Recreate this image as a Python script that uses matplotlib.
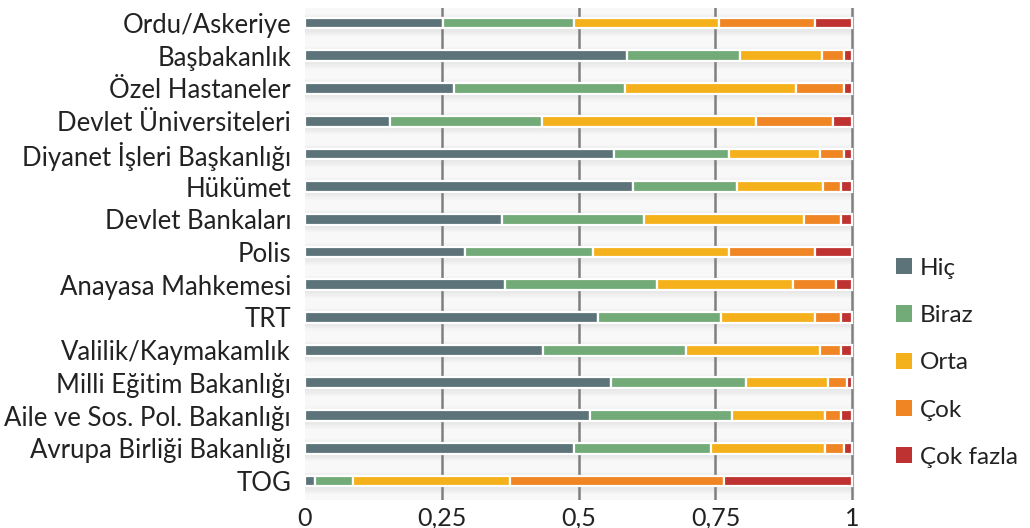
"""Stacked horizontal bar chart: kurumlara ilişkin algı dağılımı"""
import matplotlib
matplotlib.use('Agg')
import matplotlib.pyplot as plt
from matplotlib.patches import Patch

plt.rcParams['font.family'] = ['Lato', 'DejaVu Sans']

# Kurumlar (üstten alta)
kurumlar = ['Ordu/Askeriye', 'Başbakanlık', 'Özel Hastaneler', 'Devlet Üniversiteleri',
            'Diyanet İşleri Başkanlığı', 'Hükümet', 'Devlet Bankaları', 'Polis',
            'Anayasa Mahkemesi', 'TRT', 'Valilik/Kaymakamlık', 'Milli Eğitim Bakanlığı',
            'Aile ve Sos. Pol. Bakanlığı', 'Avrupa Birliği Bakanlığı', 'TOG']

# Seriler (oranlar)
hic = [0.253, 0.589, 0.272, 0.155, 0.565, 0.600, 0.360, 0.292, 0.365, 0.536, 0.434, 0.560, 0.521, 0.492, 0.018]
biraz = [0.239, 0.205, 0.313, 0.278, 0.210, 0.190, 0.259, 0.234, 0.278, 0.224, 0.262, 0.245, 0.259, 0.249, 0.069]
orta = [0.264, 0.150, 0.312, 0.391, 0.166, 0.156, 0.293, 0.249, 0.249, 0.171, 0.245, 0.151, 0.171, 0.210, 0.288]
cok = [0.176, 0.041, 0.088, 0.141, 0.044, 0.034, 0.068, 0.156, 0.078, 0.049, 0.039, 0.034, 0.029, 0.034, 0.391]
cok_fazla = [0.068, 0.015, 0.015, 0.035, 0.015, 0.020, 0.020, 0.069, 0.030, 0.020, 0.020, 0.010, 0.020, 0.015, 0.234]

seriler = [hic, biraz, orta, cok, cok_fazla]
etiketler = ['Hiç', 'Biraz', 'Orta', 'Çok', 'Çok fazla']
renkler = ['#5c7479', '#72aa78', '#f4b11c', '#ef8523', '#be3331']

fig = plt.figure(figsize=(10.30, 5.28), dpi=100)
ax = fig.add_axes([305 / 1030, 28 / 528, 550 / 1030, 492 / 528])
ax.set_facecolor('#f8f8f8')

y = list(range(len(kurumlar)))
yukseklik = 0.33

# Çubukların altındaki hafif gölge
for k in range(6):
    ax.barh([v + 0.06 for v in y], [1] * len(y), height=yukseklik + 0.07 * k,
            color='black', alpha=0.012, linewidth=0, zorder=1)

# Yığılmış çubuklar
sol = [0] * len(y)
for degerler, renk in zip(seriler, renkler):
    ax.barh(y, degerler, left=sol, height=yukseklik, color=renk,
            edgecolor='white', linewidth=1.6, zorder=3)
    sol = [a + b for a, b in zip(sol, degerler)]

# Dikey kılavuz çizgileri
for x in [0.25, 0.5, 0.75, 1.0]:
    ax.axvline(x, color='#7f7f7f', linewidth=1.8, zorder=2)

ax.set_xlim(0, 1.005)
ax.set_ylim(len(y) - 1 + 0.58, -0.46)
ax.set_yticks(y)
ax.set_yticklabels(kurumlar, fontsize=18.5, color='#222222')
ax.set_xticks([0, 0.25, 0.5, 0.75, 1])
ax.set_xticklabels(['0', '0,25', '0,5', '0,75', '1'], fontsize=18, color='#222222')
ax.tick_params(length=0, pad=10)
ax.tick_params(axis='x', pad=5)
for s in ax.spines.values():
    s.set_visible(False)

# Lejant
kutular = [Patch(facecolor=r, edgecolor='none') for r in renkler]
fig.legend(kutular, etiketler, loc='upper left', bbox_to_anchor=(874 / 1030, 1 - 236 / 528),
           frameon=False, fontsize=17.5, handlelength=0.65, handleheight=0.65,
           handletextpad=0.35, labelspacing=1.08, labelcolor='#222222')

fig.savefig('out.png', dpi=100)
